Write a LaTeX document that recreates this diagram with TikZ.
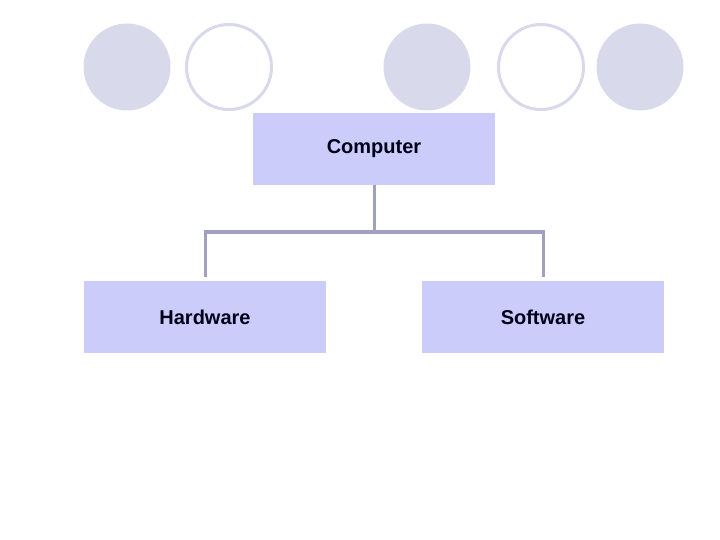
\documentclass[tikz,border=0pt]{standalone}
\usepackage{fontspec}
\setmainfont{Liberation Sans}
\definecolor{boxfill}{RGB}{204,204,250}
\definecolor{circfill}{RGB}{217,217,236}
\definecolor{linecol}{RGB}{160,160,192}
\tikzset{
  box/.style={rectangle, fill=boxfill, draw=none, minimum width=242pt, minimum height=72pt, inner sep=0pt, font=\fontsize{20}{23}\selectfont\bfseries, text=black!90!blue},
  fullcirc/.style={circle, fill=circfill, draw=none, minimum size=87pt, inner sep=0pt},
  ringcirc/.style={circle, fill=white, draw=circfill, line width=3pt, minimum size=85pt, inner sep=0pt},
  conn/.style={draw=linecol, line width=3pt}
}
\begin{document}
\begin{tikzpicture}[x=1pt,y=-1pt]
\useasboundingbox (0,0) rectangle (720,540);
\node[fullcirc] (c1) at (127,67) {};
\node[ringcirc] (c2) at (229,67) {};
\node[fullcirc] (c3) at (427,67) {};
\node[ringcirc] (c4) at (541,67) {};
\node[fullcirc] (c5) at (640,67) {};
\node[box] (comp) at (374,149) {Computer};
\node[box] (hw) at (205,317) {Hardware};
\node[box] (sw) at (543,317) {Software};
\coordinate (bus) at (374,232);
\draw[conn, shorten >=4pt] (comp.south) |- (bus) -| (hw.north);
\draw[conn, shorten >=4pt] (bus) -| (sw.north);
\end{tikzpicture}
\end{document}
